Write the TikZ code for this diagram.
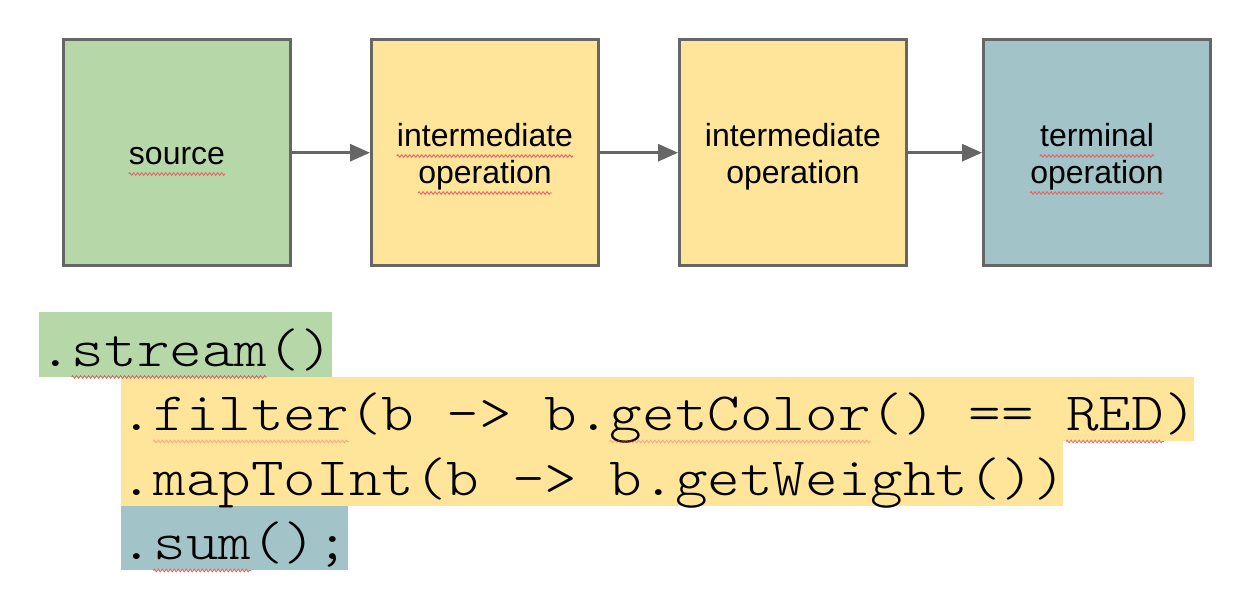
\documentclass[tikz,border=0pt]{standalone}
\usepackage{fontspec}
\usepackage{graphicx}
\newfontfamily\boxfont{Liberation Sans}
\newfontfamily\codefont{Latin Modern Mono Light}
\usetikzlibrary{arrows.meta,decorations.pathmorphing}
\definecolor{srcgreen}{HTML}{B6D7A8}
\definecolor{midyellow}{HTML}{FFE599}
\definecolor{termblue}{HTML}{A2C4C9}
\definecolor{edgegray}{HTML}{666666}
\definecolor{squig}{HTML}{E06666}
\newcommand{\codeline}[1]{\scalebox{1.15}[1]{\codefont\fontsize{54}{64}\selectfont #1}}
\begin{document}
\begin{tikzpicture}[x=1pt,y=-1pt,
  opbox/.style={draw=edgegray, line width=3pt, minimum width=227pt, minimum height=226.3pt, inner sep=0pt},
  boxtext/.style={font=\boxfont\fontsize{32}{38}\selectfont, inner sep=0pt, anchor=base},
  flow/.style={draw=edgegray, line width=3pt, -{Triangle[length=20pt,width=17pt]}},
  codebg/.style={anchor=north west, inner sep=0pt, minimum height=64.5pt},
  codetext/.style={anchor=base west, inner sep=0pt},
  spell/.style={draw=squig, line width=0.9pt, decorate, decoration={zigzag, segment length=4pt, amplitude=1.3pt}},
  faintspell/.style={spell, draw opacity=0.45}]
\useasboundingbox (0,0) rectangle (1258,606);

% pipeline boxes
\node[opbox, fill=srcgreen] (src) at (177,152.7) {};
\node[opbox, fill=midyellow] (mid1) at (485,152.7) {};
\node[opbox, fill=midyellow] (mid2) at (793,152.7) {};
\node[opbox, fill=termblue] (term) at (1097,152.7) {};

\draw[flow] (src.east) -- (mid1.west);
\draw[flow] (mid1.east) -- (mid2.west);
\draw[flow] (mid2.east) -- (term.west);

\node[boxtext] (srcT) at (177,164) {source};
\node[boxtext] (mid1a) at (485,146) {intermediate};
\node[boxtext] (mid1b) at (485,183) {operation};
\node[boxtext] (mid2a) at (793,146) {intermediate};
\node[boxtext] (mid2b) at (793,183) {operation};
\node[boxtext] (terma) at (1097,146) {terminal};
\node[boxtext] (termb) at (1097,183) {operation};

\foreach \n in {srcT,mid1a,mid1b,terma,termb}
  \draw[spell] ([yshift=-10pt]\n.base west) -- ([yshift=-10pt]\n.base east);

% code
\node[codebg, fill=srcgreen, minimum width=293pt] (bg1) at (39,312) {};
\node[codebg, fill=midyellow, minimum width=1073.5pt] (bg2) at (120.7,376.5) {};
\node[codebg, fill=midyellow, minimum width=942.3pt] (bg3) at (120.7,441) {};
\node[codebg, fill=termblue, minimum width=227.3pt] (bg4) at (120.7,505.5) {};

\node[codetext] (c1) at (39,366) {\codeline{.stream()}};
\node[codetext] (c2) at (120.7,430.5) {\codeline{.filter(b -> b.getColor() == RED)}};
\node[codetext] (c3) at (120.7,495) {\codeline{.mapToInt(b -> b.getWeight())}};
\node[codetext] (c4) at (120.7,559.5) {\codeline{.sum();}};

\draw[spell] ([xshift=1*32.6pt,yshift=-11pt]c1.base west) -- ([xshift=7*32.6pt,yshift=-11pt]c1.base west);
\draw[faintspell] ([xshift=1*32.6pt,yshift=-11pt]c2.base west) -- ([xshift=7*32.6pt,yshift=-11pt]c2.base west);
\draw[faintspell] ([xshift=15*32.6pt,yshift=-11pt]c2.base west) -- ([xshift=23*32.6pt,yshift=-11pt]c2.base west);
\draw[spell] ([xshift=29*32.6pt,yshift=-11pt]c2.base west) -- ([xshift=32*32.6pt,yshift=-11pt]c2.base west);
\draw[spell] ([xshift=1*32.6pt,yshift=-11pt]c4.base west) -- ([xshift=4*32.6pt,yshift=-11pt]c4.base west);
\end{tikzpicture}
\end{document}
